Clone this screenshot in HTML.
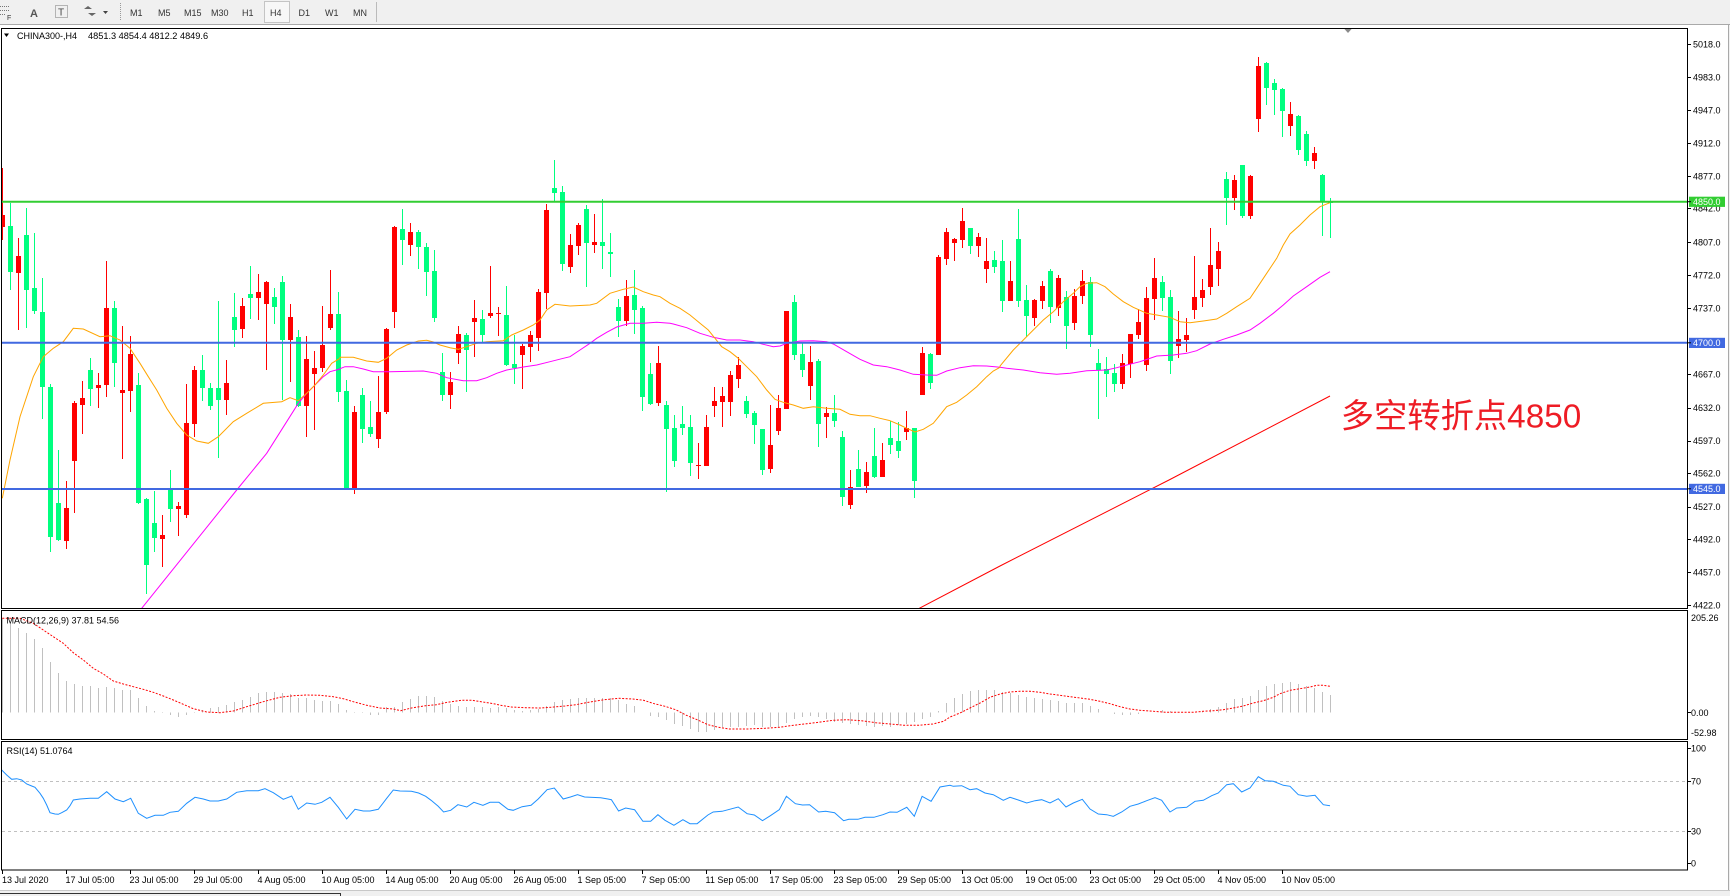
<!DOCTYPE html>
<html><head><meta charset="utf-8">
<style>
html,body{margin:0;padding:0;background:#fff;}
body{width:1730px;height:896px;overflow:hidden;position:relative;}
svg{position:absolute;left:0;top:0;}
text{font-family:"Liberation Sans",Arial,sans-serif;}
</style></head><body>
<svg id="s" width="1730" height="896" viewBox="0 0 1730 896" xmlns="http://www.w3.org/2000/svg">
<defs>
<clipPath id="cm"><rect x="2" y="29" width="1685" height="579"/></clipPath>
<clipPath id="cmacd"><rect x="2" y="611" width="1685" height="128"/></clipPath>
<clipPath id="crsi"><rect x="2" y="742" width="1685" height="128"/></clipPath>
</defs>
<rect x="0" y="0" width="1730" height="896" fill="#fff"/>
<!-- toolbar -->
<rect x="0" y="0" width="1730" height="24" fill="#f0f0f0"/>
<line x1="0" y1="24.5" x2="1730" y2="24.5" stroke="#a9a9a9"/>
<g stroke="#777" stroke-width="1" stroke-dasharray="1,1">
<line x1="0" y1="6.5" x2="10" y2="6.5"/><line x1="0" y1="10.5" x2="10" y2="10.5"/><line x1="0" y1="14.5" x2="6" y2="14.5"/>
</g>
<text x="7" y="20" font-size="7" fill="#333">F</text>
<text x="30" y="17" font-size="11" fill="#555" font-weight="bold">A</text>
<rect x="55.5" y="5.5" width="12" height="12" fill="none" stroke="#777" stroke-dasharray="1,1"/>
<text x="58" y="15.5" font-size="10" fill="#444">T</text>
<path d="M84 9 l4 -3 l4 3 z M88 13 l4 3 l4 -3 z" fill="#666"/>
<path d="M103 11 h5 l-2.5 3 z" fill="#444"/>
<line x1="120.5" y1="3" x2="120.5" y2="21" stroke="#999" stroke-dasharray="1,1"/>
<rect x="264.5" y="1.5" width="25" height="21" fill="#f7f7f7" stroke="#c4c4c4"/>
<g font-size="9" fill="#333">
<text x="130" y="16">M1</text><text x="158" y="16">M5</text><text x="184" y="16">M15</text><text x="211" y="16">M30</text>
<text x="242" y="16">H1</text><text x="270" y="16">H4</text><text x="298.5" y="16">D1</text><text x="325" y="16">W1</text><text x="353" y="16">MN</text>
</g>
<line x1="376.5" y1="2" x2="376.5" y2="22" stroke="#bbb"/>

<!-- right window edge / bottom strip -->
<rect x="1728" y="25" width="2" height="871" fill="#f0f0f0"/>
<line x1="1728.5" y1="25" x2="1728.5" y2="891" stroke="#a9a9a9"/>
<rect x="0" y="890" width="1730" height="6" fill="#f0f0f0"/>
<line x1="0" y1="890.5" x2="1730" y2="890.5" stroke="#c8c8c8"/>
<line x1="0" y1="893.5" x2="340" y2="893.5" stroke="#333"/>
<line x1="340.5" y1="893" x2="340.5" y2="896" stroke="#333"/>

<!-- main chart contents -->
<g clip-path="url(#cm)">
<g id="gc" shape-rendering="crispEdges"></g>
<g id="gm" fill="none"></g>
<line x1="2" y1="201.7" x2="1687" y2="201.7" stroke="#32cd32" stroke-width="2"/>
<line x1="2" y1="342.8" x2="1687" y2="342.8" stroke="#4169e1" stroke-width="2"/>
<line x1="2" y1="489" x2="1687" y2="489" stroke="#4169e1" stroke-width="2"/>
<text x="1340.7" y="427.7" font-size="33.3" fill="#ee1c25" style='font-family:"Liberation Sans","Noto Sans CJK SC",sans-serif'>多空转折点4850</text>
</g>
<path d="M1344 28.5 h8 l-4 4.5 z" fill="#8a8a8a"/>

<!-- MACD -->
<g clip-path="url(#cmacd)">
<g id="gh" shape-rendering="crispEdges"></g>
<g id="gs" fill="none"></g>
</g>
<!-- RSI -->
<g clip-path="url(#crsi)">
<line x1="2" y1="781.5" x2="1687" y2="781.5" stroke="#c0c0c0" stroke-dasharray="3,3"/>
<line x1="2" y1="831.5" x2="1687" y2="831.5" stroke="#c0c0c0" stroke-dasharray="3,3"/>
<g id="gr" fill="none"></g>
</g>

<!-- frames -->
<g fill="none" stroke="#000" stroke-width="1" shape-rendering="crispEdges">
<rect x="1.5" y="28.5" width="1686" height="580"/>
<rect x="1.5" y="610.5" width="1686" height="129"/>
<rect x="1.5" y="741.5" width="1686" height="128.5"/>
</g>

<!-- titles -->
<path d="M4 33.5 h5 l-2.5 3.5 z" fill="#000"/>
<text x="17" y="39" font-size="9" fill="#000">CHINA300-,H4</text>
<text x="88" y="39" font-size="9.2" fill="#000">4851.3 4854.4 4812.2 4849.6</text>
<text x="6.5" y="623.3" font-size="9" fill="#000">MACD(12,26,9) 37.81 54.56</text>
<text x="6.5" y="754" font-size="9" fill="#000">RSI(14) 51.0764</text>

<g id="ga" font-size="9" fill="#000"></g>
</svg>
<script>
const NS="http://www.w3.org/2000/svg";
function E(t,a,p){const e=document.createElementNS(NS,t);for(const k in a)e.setAttribute(k,a[k]);p.appendChild(e);return e;}
const gC=document.getElementById('gc'),gM=document.getElementById('gm'),gH=document.getElementById('gh'),gS=document.getElementById('gs'),gR=document.getElementById('gr'),gA=document.getElementById('ga');

// candles: [wickTop, wickBot, bodyTop, bodyBot, color] in zoom units
const C1=[
[55,270,195,230,'r'],[160,420,228,365,'g'],[265,540,318,368,'r'],[175,535,255,420,'g'],[248,492,413,483,'g'],
[383,807,486,712,'g'],[703,1205,711,1160,'g'],[900,1173,1058,1170,'g'],[993,1197,1074,1172,'r'],[752,1088,759,932,'r'],
[693,852,744,765,'r'],[625,768,660,717,'g'],[669,773,706,713,'r'],[333,740,474,705,'r'],[453,712,474,638,'g'],
[528,927,720,728,'r'],[558,785,612,722,'r'],[670,1062,705,1058,'g'],[1045,1332,1047,1245,'g'],[1023,1205,1120,1163,'g'],
[1095,1250,1155,1166,'r'],[960,1116,1016,1076,'g'],[1055,1158,1068,1076,'r'],[702,1103,819,1095,'r'],[648,862,660,822,'r'],
[615,752,660,713,'g'],[700,780,713,768,'g'],[453,923,714,749,'g'],[630,795,699,749,'r'],[430,590,501,539,'g'],
[444,563,468,536,'r'],[348,507,432,443,'g'],[372,509,426,443,'r'],[393,660,396,461,'r'],[413,522,441,470,'g'],
[378,750,396,570,'g'],[462,695,501,570,'r'],[540,770,561,767,'g'],[557,862,627,767,'r'],[603,840,654,671,'r'],
[467,667,585,654,'r'],[360,540,492,534,'r'],[426,755,492,725,'g'],
[690,1015,723,1015,'g'],[768,1032,786,1017,'r'],[714,880,735,837,'g'],[752,862,830,852,'g'],[678,893,786,866,'r'],
[533,791,537,786,'r'],[228,533,231,486,'r'],[177,345,237,270,'g'],[219,318,246,285,'r'],[240,357,246,291,'g'],
[279,438,291,365,'g'],[300,516,363,504,'g'],[609,753,666,735,'g'],[666,777,696,735,'r'],[528,641,552,608,'r'],
[549,726,555,600,'g'],[450,621,504,516,'r'],[480,575,507,555,'g'],[348,504,489,498,'r'],[471,558,489,492,'r'],
[408,648,495,645,'g'],[555,702,642,654,'g'],[582,717,588,615,'r'],[543,636,555,591,'r'],[417,603,426,564,'r'],
[162,477,180,429,'r'],[30,155,114,129,'g'],[108,363,126,342,'g'],[252,369,285,351,'r'],[219,315,225,288,'r'],
[165,411,177,279,'g'],[192,309,276,285,'r'],[147,357,276,288,'g'],[249,381,306,312,'g'],[447,561,471,513,'g'],
[390,528,438,513,'r'],[360,552,435,480,'g'],[468,783,474,741,'g'],[639,765,672,762,'g'],[588,768,639,759,'r'],
[753,1025,765,837,'g'],
[795,950,834,933,'g'],[768,855,822,834,'g'],[795,978,831,939,'g'],[879,987,944,948,'r'],[795,948,831,948,'r'],
[711,801,753,768,'r'],[711,831,738,756,'r'],[663,798,675,756,'r'],[621,714,645,687,'r'],[738,804,753,792,'g'],
[783,882,789,825,'g'],[837,975,837,960,'g'],[765,969,885,957,'r'],[735,855,774,843,'r'],[483,777,483,777,'r'],
[435,630,456,615,'g'],[576,681,612,660,'g'],[588,750,636,708,'r'],[627,891,633,822,'g'],[771,864,789,801,'r'],
[735,831,789,813,'g'],[843,1068,861,1041,'g'],[960,1077,1011,1065,'r'],[900,1011,957,1011,'g'],[936,1029,966,1008,'r'],
[834,984,918,981,'g'],[879,981,930,981,'r'],[813,912,864,885,'g'],[816,924,873,903,'g'],[783,870,834,846,'r'],
[834,1044,834,993,'g'],[591,735,609,735,'r'],[609,717,612,699,'g'],[315,615,321,615,'r'],[234,345,246,327,'r'],
[264,333,267,279,'r'],[174,294,213,270,'r'],[234,312,234,288,'g'],[249,321,261,288,'r'],[264,399,333,357,'r']
];
const C4=[
[633,699,660,681,'g'],[600,816,663,783,'g'],[663,783,723,783,'r'],[507,801,597,783,'g'],[735,891,780,828,'g'],
[777,858,780,834,'r'],[723,807,738,783,'r'],[687,849,693,801,'g'],[705,828,714,804,'r'],[753,927,771,858,'g'],
[747,870,768,849,'r'],[690,792,723,768,'r'],[711,921,726,885,'g'],[927,1137,969,990,'g'],[951,1071,987,1002,'g'],
[972,1056,999,1032,'g'],[942,1047,969,1032,'r'],[882,1014,882,972,'r'],[807,897,846,885,'r'],[741,993,774,975,'r'],
[654,840,714,777,'r'],[708,813,726,774,'g'],[750,1002,771,963,'g'],[813,954,897,918,'r'],[834,936,885,900,'r'],
[648,837,771,810,'r'],[717,801,750,774,'r'],[564,765,675,741,'r'],[607,738,633,687,'r'],[396,555,417,474,'g'],
[405,510,420,474,'r'],[375,534,375,528,'g'],[405,537,408,528,'r'],[51,276,78,237,'r'],[66,195,69,144,'g'],
[117,225,129,150,'g'],[144,291,147,213,'g'],[186,288,222,258,'r'],[225,345,228,330,'g'],[273,378,282,363,'g'],
[321,387,339,363,'r'],[402,588,405,486,'g'],[474,594,483,489,'g']
];
function candle(i,d,yo){
 const cx=2.5+8*i, col=d[4]=='r'?'#ff0000':'#00ff7f';
 const wt=Math.round(yo+d[0]/3), wb=Math.round(yo+d[1]/3);
 let bt=Math.round(yo+d[2]/3), bb=Math.round(yo+d[3]/3);
 if(bb-bt<1) bb=bt+1;
 E('line',{x1:cx,y1:wt,x2:cx,y2:wb,stroke:col,'stroke-width':1},gC);
 E('rect',{x:cx-2.5,y:bt,width:5,height:bb-bt,fill:col},gC);
}
C1.forEach((d,i)=>candle(i,d,150));
C4.forEach((d,i)=>candle(124+i,d,40));

function mapPts(arr,ox,oy,fx,fy){const r=[];for(let k=0;k<arr.length;k+=2)r.push([ox+arr[k]/fx,oy+arr[k+1]/fy]);return r;}
function poly(pts,col,g,extra){const a={points:pts.map(p=>p[0].toFixed(1)+','+p[1].toFixed(1)).join(' '),stroke:col,'stroke-width':1,fill:'none'};if(extra)for(const k in extra)a[k]=extra[k];E('polyline',a,g);}

// Orange MA
let O=[].concat(
 mapPts([7,1045,30,930,60,800,100,680,130,620,160,595,190,575,220,535,250,537,300,560,330,557,360,570,390,595,420,640,445,680,470,720,500,775,530,820,560,855,590,873,625,880,655,860,700,815,740,790,790,760,845,755,870,743,895,752,920,730,945,705,970,675,995,640,1020,625],0,150,3,3),
 mapPts([30,622,70,622,110,633,145,637,170,625,200,600,230,585,265,573,290,571,310,576,330,585,360,593,385,598,410,590,440,580,470,575,520,572,545,555,580,540,610,525,630,510,650,480,675,463,720,468,780,465,800,460,840,430,880,418,910,411,940,425,970,435,990,440,1020,460],330,150,3,3),
 mapPts([30,460,60,475,90,495,120,520,145,540,165,565,185,590,210,605,235,625,260,650,290,680,320,720,345,748,370,757,400,765,430,775,460,770,500,775,540,778,570,793,600,797,630,797,660,805,690,812,720,825,740,835,765,846,790,838,820,820,840,795,860,770,890,757,920,735,950,710,980,680,1000,663,1020,652],660,150,3,3),
 mapPts([30,978,70,930,100,900,130,870,160,840,190,815,220,785,250,760,270,740,290,730,320,728,345,740,370,762,400,785,430,802,470,820,500,825,540,832,570,845,600,848,640,843,680,837,710,820,740,800,780,775,800,745,830,700,860,655,880,615,900,582,930,555,960,525,990,500,1020,488],990,40,3,3)
);
// Magenta MA
let M=[].concat(
 mapPts([425,1375,710,1020,800,910,895,760,920,730,945,705,970,680,990,665,1020,657],0,150,3,3),
 mapPts([20,660,45,650,70,650,100,657,130,665,180,665,280,663,320,670,350,683,400,692,440,692,470,683,500,670,530,660,580,651,620,645,660,635,700,625,720,620,750,600,780,580,800,565,830,547,860,531,900,520,940,520,980,517,1020,520],330,150,3,3),
 mapPts([40,522,80,533,120,550,160,562,200,570,240,570,280,575,310,583,340,590,360,588,380,580,420,573,460,572,500,575,520,582,560,605,600,628,640,645,680,650,720,660,760,673,800,675,830,676,860,663,900,653,940,647,980,648,1020,652],660,150,3,3),
 mapPts([50,985,100,990,150,998,200,1003,240,1000,290,992,350,990,380,983,410,975,450,965,500,948,550,945,590,940,620,932,660,912,700,898,740,885,780,870,810,850,850,820,880,795,910,768,950,740,990,712,1020,695],990,40,3,3)
);
poly([[918,609],[1000,566],[1169,480],[1330,396]],'#ff0000',gM);
poly(M,'#ff00ff',gM);
poly(O,'#ffa500',gM);

// MACD histogram
function interp(P,x){if(x<=P[0][0])return P[0][1];for(let k=1;k<P.length;k++){if(x<=P[k][0]){const a=P[k-1],b=P[k];return a[1]+(b[1]-a[1])*(x-a[0])/(b[0]-a[0]);}}return P[P.length-1][1];}
const h4=[55,70,85,99,117,145,186,219,243,253,259,260,267,261,264,270,272,294,318,333,336,345,353,347,342,333,327,324,318,309,303,292,282,276,276,279,282,294,294,300,306,303,312,330,336,336,346,347,323,322];
let H=[];h4.forEach((v,i)=>H.push([(7+24*i)/3,600+v/3+(-0.5)]));
const h10=[13,303,37,282,61,270,85,264,109,264,133,270,157,283,181,292,205,296,229,297,253,297,277,299,301,297,325,300,349,305,373,308,397,306,421,301,445,291,469,279,493,276,517,270,541,270,565,270,589,270,613,270,637,276,661,287,685,295,709,313,733,327,757,327,781,340,805,352,829,357,853,370,877,375,901,368,925,358,949,358,973,358,997,355,1021,352,1045,357,1069,358,1093,358,1117,340,1141,330,1165,326,1189,325,1213,330,1237,339,1261,345,1285,348,1309,350,1333,355,1357,357,1381,355,1405,357,1429,350,1453,347,1477,340,1501,330,1525,325,1549,287];
mapPts(h10,390,608,2.8,3).forEach(p=>{if(p[0]>H[H.length-1][0]+0.5)H.push(p);});
const h11=[19,285,43,270,67,258,91,249,115,246,139,246,163,246,187,252,211,255,235,261,259,267,283,270,307,273,331,275,355,278,379,285,403,285,427,285,451,294,475,303,499,313,523,317,547,320,571,320,595,317,619,313,643,313,667,306,691,310,715,313,739,313,763,313,787,310,811,303,835,297,859,285,883,272,907,270,931,264,955,246,979,234,1003,228,1027,224,1051,222,1075,228,1099,234,1123,240,1147,252,1171,261];
mapPts(h11,940,608,3,3).forEach(p=>{if(p[0]>H[H.length-1][0]+0.5)H.push(p);});
const Z=712.5;
for(let i=0;i<=166;i++){const cx=2.5+8*i;const t=interp(H,cx);if(Math.abs(t-Z)<0.8)continue;
 E('line',{x1:cx,y1:Z,x2:cx,y2:Math.round(t),stroke:'#c0c0c0','stroke-width':1},gH);}

// MACD signal
let SG=[].concat(
 mapPts([7,55,60,55,100,70,130,90,160,110,190,130,220,158,250,180,280,205,310,222,340,243,370,252,400,260,430,268,460,277,490,288,520,300,550,313,580,326,620,336,660,338,700,333,740,320,790,305,840,292,880,287,920,285,960,286,1000,290,1030,296,1060,305,1100,316,1140,324,1180,327],0,600,3,3),
 mapPts([30,308,60,300,100,293,130,290,160,283,200,277,230,277,260,282,290,287,310,292,340,297,380,299,420,300,450,298,490,294,520,290,560,282,600,275,640,271,680,273,710,277,740,287,770,295,800,305,830,322,860,335,890,350,920,358,950,363,1000,363,1050,361,1090,358,1120,353,1160,348,1200,343,1240,337,1280,335,1320,338,1360,344,1400,348,1440,352,1480,352,1520,348,1550,340],390,608,2.8,3),
 mapPts([30,327,60,315,90,300,120,285,150,268,180,258,210,252,240,250,270,250,300,253,330,258,360,262,390,266,420,270,450,274,480,280,510,287,540,296,570,303,600,307,640,310,680,313,720,313,760,313,790,310,820,308,850,305,880,300,910,294,940,285,970,278,1000,268,1020,257,1050,247,1080,242,1110,237,1130,232,1150,232,1170,235],940,608,3,3)
);
poly(SG,'#ff0000',gS,{'stroke-dasharray':'2,1.5'});

// RSI
let R=[].concat(
 mapPts([5,510,20,525,35,538,50,536,65,540,80,552,95,558,105,562,120,580,130,595,140,615,150,638,165,642,175,643,185,638,200,630,210,617,220,600,240,597,270,595,295,595,320,575,345,597,370,605,392,595,415,640,440,655,465,646,490,646,510,637,535,634,560,610,585,592,610,597,630,603,655,603,680,597,710,577,740,572,775,572,795,566,820,578,850,598,875,588,895,628,920,609,945,613,965,607,990,592,1015,622,1040,657,1065,628,1090,633,1110,633,1135,628,1160,595,1180,570,1200,573],0,600,3,3),
 mapPts([60,550,80,555,100,565,115,577,135,595,150,612,170,607,190,590,215,597,235,583,260,592,280,583,305,583,330,604,345,607,370,596,395,592,415,573,440,545,460,540,485,573,505,567,525,560,545,567,590,569,610,573,620,575,640,609,660,600,685,605,708,640,730,640,750,620,770,637,795,652,820,635,840,647,860,647,890,621,905,612,930,610,975,597,1000,617,1020,621,1043,638,1065,623,1090,605,1110,565,1135,587,1155,591,1175,590,1200,612,1220,610,1245,614,1270,638,1285,634,1310,634,1330,628,1355,628,1380,620,1400,612,1420,613,1447,598,1468,625,1490,565,1515,580,1540,537,1568,532],390,608,2.8,3),
 mapPts([40,535,65,533,90,545,110,542,135,555,160,560,190,577,210,568,235,576,260,585,285,578,305,575,330,585,355,572,378,597,400,585,427,574,450,603,475,618,500,620,520,625,545,612,570,595,595,588,620,578,645,569,665,577,690,612,710,600,740,598,765,580,790,577,815,563,835,555,860,530,880,527,905,552,930,540,955,506,975,518,1000,520,1030,532,1050,535,1075,560,1100,565,1125,562,1150,590,1170,593],940,608,3,3)
);
poly(R,'#1e90ff',gR);

// price axis labels
const PL=[[5018,44.3],[4983,77.3],[4947,110.3],[4912,143.3],[4877,176.3],[4842,208.3],[4807,242.3],[4772,275.3],[4737,308.3],[4667,374.3],[4632,407.7],[4597,440.7],[4562,473.3],[4527,506.7],[4492,539.3],[4457,572.3],[4422,605]];
PL.forEach(p=>{E('line',{x1:1688,y1:Math.round(p[1])+0.5,x2:1691,y2:Math.round(p[1])+0.5,stroke:'#000'},gA);
 const t=E('text',{x:1693,y:(p[1]+3.3).toFixed(1)},gA);t.textContent=p[0]+'.0';});
function box(y,col,label){E('rect',{x:1689,y:y-5,width:36,height:10.2,fill:col},gA);
 const t=E('text',{x:1693,y:y+3.3,fill:'#fff'},gA);t.textContent=label;
 E('line',{x1:1688,y1:y,x2:1691,y2:y,stroke:'#000'},gA);}
box(201.7,'#32cd32','4850.0');
box(342.8,'#4169e1','4700.0');
box(488.8,'#4169e1','4545.0');
// MACD labels
[[205.26,617.7,'205.26'],[0,712.7,'0.00'],[-52.98,732.7,'-52.98']].forEach(p=>{const t=E('text',{x:1691,y:p[1]+3.3},gA);t.textContent=p[2];});
E('line',{x1:1688,y1:712.5,x2:1691,y2:712.5,stroke:'#000'},gA);
// RSI labels
[[748,'100'],[781.3,'70'],[831.3,'30'],[863.3,'0']].forEach(p=>{const t=E('text',{x:1691,y:p[0]+3.3},gA);t.textContent=p[1];
 E('line',{x1:1688,y1:Math.round(p[0])+0.5,x2:1691,y2:Math.round(p[0])+0.5,stroke:'#000'},gA);});
// time labels
const TL=["13 Jul 2020","17 Jul 05:00","23 Jul 05:00","29 Jul 05:00","4 Aug 05:00","10 Aug 05:00","14 Aug 05:00","20 Aug 05:00","26 Aug 05:00","1 Sep 05:00","7 Sep 05:00","11 Sep 05:00","17 Sep 05:00","23 Sep 05:00","29 Sep 05:00","13 Oct 05:00","19 Oct 05:00","23 Oct 05:00","29 Oct 05:00","4 Nov 05:00","10 Nov 05:00"];
TL.forEach((s,k)=>{const x=2.5+64*k;E('line',{x1:x,y1:870,x2:x,y2:874,stroke:'#000'},gA);
 const t=E('text',{x:(k==0?2:x-1),y:883},gA);t.textContent=s;});
</script>
</body></html>
